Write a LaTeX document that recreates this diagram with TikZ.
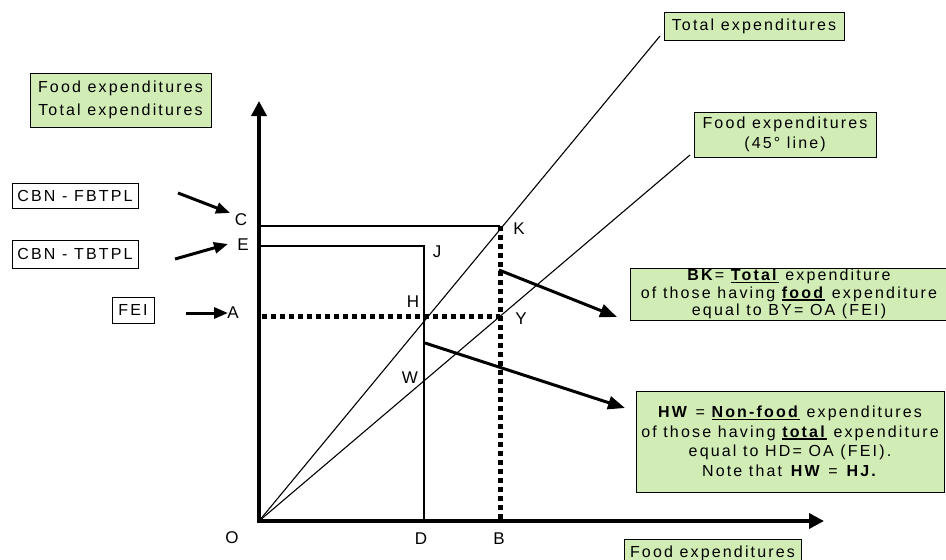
\documentclass[tikz,border=0pt]{standalone}
\usepackage{fontspec}
\setmainfont{Liberation Sans}[LetterSpace=13.5]
\usetikzlibrary{arrows.meta}
\definecolor{boxgreen}{RGB}{210,236,182}
\newcommand\thickul[1]{\setbox0=\hbox{#1}\rlap{\rule[-2.5pt]{\wd0}{1.6pt}}\box0\relax}
\newcommand\boxfont{\fontsize{16}{19}\selectfont}
\begin{document}
\begin{tikzpicture}[x=1pt,y=-1pt,
  guide/.style={line width=1.1pt},
  dotline/.style={line width=5pt, dash pattern=on 5pt off 4pt},
  axis/.style={line width=3.6pt, {Triangle[length=15pt,width=15pt]}-{Triangle[length=15pt,width=15pt]}},
  ptr/.style={line width=3pt, -{Triangle[length=17pt,width=13pt]}},
  smallptr/.style={line width=3pt, -{Triangle[length=14pt,width=11pt]}},
  greenbox/.style={draw, line width=0.8pt, fill=boxgreen, inner sep=0pt, align=center, font=\boxfont},
  whitebox/.style={draw, line width=1pt, fill=white, inner sep=0pt, font=\boxfont},
  ptlabel/.style={font=\fontsize{17}{17}\selectfont, inner sep=0pt}
]
\useasboundingbox (0,0) rectangle (946,560);
\clip (0,0) rectangle (946,560);

% geometry
\coordinate (O) at (259,521);
\coordinate (ytip) at (259,101);
\coordinate (xtip) at (824,521);
\coordinate (Kpt) at (500,226);
\coordinate (Kleft) at (261,226);
\coordinate (Jpt) at (424,246);
\coordinate (Jleft) at (261,246);
\coordinate (Dpt) at (424,521);
\coordinate (Bpt) at (500,521);
\coordinate (Ypt) at (500,316);
\coordinate (Aleft) at (261.5,316);
\coordinate (tend) at (660,36);
\coordinate (fend) at (690,155);

% guide lines
\draw[guide] (Kleft) -- (Kpt);
\draw[guide] (Jleft) -- (Jpt) -- (Dpt);
\draw[guide] (O) -- (tend);
\draw[guide] (O) -- (fend);

% dotted lines
\draw[dotline] (Kpt) -- (Bpt);
\draw[dotline] (Aleft) -- (Ypt);

% axes
\draw[axis, line join=miter] (ytip) -- (O) -- (xtip);

% point labels
\node[ptlabel] (Olab) at (232,538) {O};
\node[ptlabel] (Dlab) at (421,539) {D};
\node[ptlabel] (Blab) at (499,539) {B};
\node[ptlabel] (Clab) at (241,220) {C};
\node[ptlabel] (Elab) at (243,245) {E};
\node[ptlabel] (Alab) at (233,313) {A};
\node[ptlabel] (Jlab) at (437,252) {J};
\node[ptlabel] (Klab) at (519,229) {K};
\node[ptlabel] (Hlab) at (413,302) {H};
\node[ptlabel] (Ylab) at (521,319) {Y};
\node[ptlabel] (Wlab) at (410,378) {W};

% boxes
\node[greenbox, minimum width=181pt, minimum height=54pt, font=\fontsize{16}{23}\selectfont] (axbox) at (120.5,100) {Food expenditures\\Total expenditures};
\node[greenbox, minimum width=180pt, minimum height=28pt] (totbox) at (754,26) {Total expenditures};
\node[greenbox, minimum width=182pt, minimum height=45pt, font=\fontsize{16}{20}\selectfont] (foodbox) at (785,134.5) {Food expenditures\\(45° line)};
\node[greenbox, minimum width=318pt, minimum height=52pt, font=\fontsize{16}{17.5}\selectfont] (bkbox) at (789,294) {\textbf{BK}= \thickul{\textbf{Total}} expenditure\\of those having \thickul{\textbf{food}} expenditure\\equal to BY= OA (FEI)};
\node[greenbox, minimum width=308pt, minimum height=101pt, font=\fontsize{16}{19.5}\selectfont] (hwbox) at (790,441.5) {\textbf{HW} = \thickul{\textbf{Non-food}} expenditures\\of those having \thickul{\textbf{total}} expenditure\\equal to HD= OA (FEI).\\Note that \textbf{HW} = \textbf{HJ.}};
\node[greenbox, minimum width=177pt, minimum height=28pt] (xbox) at (712.5,553) {Food expenditures};

\node[whitebox, minimum width=126pt, minimum height=25pt] (fbbox) at (75,195.5) {CBN - FBTPL};
\node[whitebox, minimum width=126pt, minimum height=28pt] (tbbox) at (75,254) {CBN - TBTPL};
\node[whitebox, minimum width=42pt, minimum height=26pt] (feibox) at (133,310) {FEI};

% pointer arrows
\coordinate (fbs) at (178,193);
\coordinate (fbe) at (230,213);
\coordinate (tbs) at (175,259);
\coordinate (tbe) at (228,244);
\coordinate (feis) at (186,313);
\coordinate (feie) at (228,313);
\coordinate (ks) at (499,270);
\coordinate (ke) at (617,317);
\coordinate (ws) at (425,343);
\coordinate (we) at (625,408);
\draw[smallptr] (fbs) -- (fbe);
\draw[smallptr] (tbs) -- (tbe);
\draw[smallptr] (feis) -- (feie);
\draw[ptr] (ks) -- (ke);
\draw[ptr] (ws) -- (we);
\end{tikzpicture}
\end{document}
